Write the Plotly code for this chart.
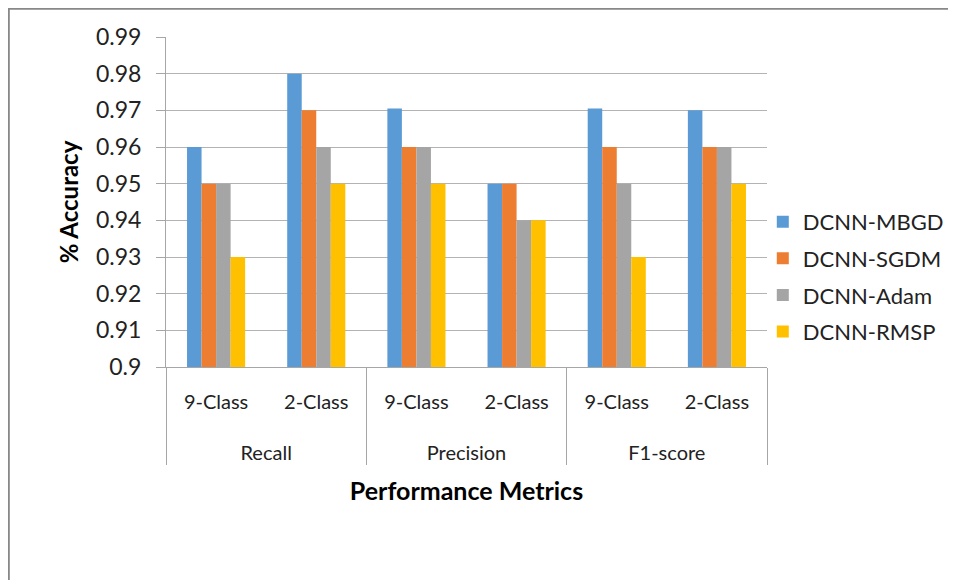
import plotly.graph_objects as go

metrics = ["Recall", "Recall", "Precision", "Precision", "F1-score", "F1-score"]
classes = ["9-Class", "2-Class", "9-Class", "2-Class", "9-Class", "2-Class"]

series_names = ["DCNN-MBGD", "DCNN-SGDM", "DCNN-Adam", "DCNN-RMSP"]
mbgd = [0.96, 0.98, 0.9705, 0.95, 0.9705, 0.97]
sgdm = [0.95, 0.97, 0.96, 0.95, 0.96, 0.96]
adam = [0.95, 0.96, 0.96, 0.94, 0.95, 0.96]
rmsp = [0.93, 0.95, 0.95, 0.94, 0.93, 0.95]
colors = ["#5B9BD5", "#ED7D31", "#A5A5A5", "#FFC000"]

y_ticks = [0.9, 0.91, 0.92, 0.93, 0.94, 0.95, 0.96, 0.97, 0.98, 0.99]
y_ticktext = ["0.9", "0.91", "0.92", "0.93", "0.94", "0.95", "0.96", "0.97", "0.98", "0.99"]

FONT = "Lato"
# class labels get a blank (large) extra line so the group row sits lower, as in the reference
class_labels = [c + "<br><span style='font-size:55px'> </span>" for c in classes]

fig = go.Figure()
for name, vals, col in zip(series_names, [mbgd, sgdm, adam, rmsp], colors):
    fig.add_trace(go.Bar(
        x=[metrics, class_labels], y=vals, name=name, legendgroup=name,
        marker=dict(color=col, line=dict(width=0)),
    ))

fig.update_layout(
    width=956, height=580,
    margin=dict(l=158, r=197, t=29, b=221),
    paper_bgcolor="white", plot_bgcolor="white",
    font=dict(family=FONT, size=20, color="#222222"),
    barmode="group", bargap=0.42, bargroupgap=0,
    showlegend=True,
    legend=dict(x=0.993, y=0.273, xanchor="left", yanchor="middle",
                font=dict(size=22, color="#222222"), tracegroupgap=5,
                itemwidth=30, bgcolor="rgba(0,0,0,0)"),
    xaxis=dict(
        type="multicategory",
        showline=True, linecolor="#A6A6A6", linewidth=1,
        showdividers=True, dividercolor="#A6A6A6", dividerwidth=1,
        tickfont=dict(size=20, color="#222222"),
        ticklabelstandoff=17,
        title=dict(text="<b>Performance Metrics</b>", font=dict(size=25, color="#000000"), standoff=19),
    ),
    yaxis=dict(
        range=[0.9, 0.99], tickvals=y_ticks, ticktext=y_ticktext,
        showgrid=True, gridcolor="#B3B3B3", gridwidth=1,
        showline=True, linecolor="#A6A6A6", linewidth=1,
        ticks="outside", ticklen=9, tickcolor="#A6A6A6",
        ticklabelstandoff=10,
        tickfont=dict(size=23, color="#222222"),
        zeroline=False,
        title=dict(text="<b>% Accuracy</b>", font=dict(size=24, color="#000000"), standoff=10),
    ),
    shapes=[dict(type="rect", xref="paper", yref="paper",
                 x0=-157.2/601, x1=(990-166)/601, y0=-(620-367)/330, y1=(367-8.8)/330,
                 line=dict(color="#888888", width=2), fillcolor="rgba(0,0,0,0)", layer="below")],
)

fig.write_html("out.html")
